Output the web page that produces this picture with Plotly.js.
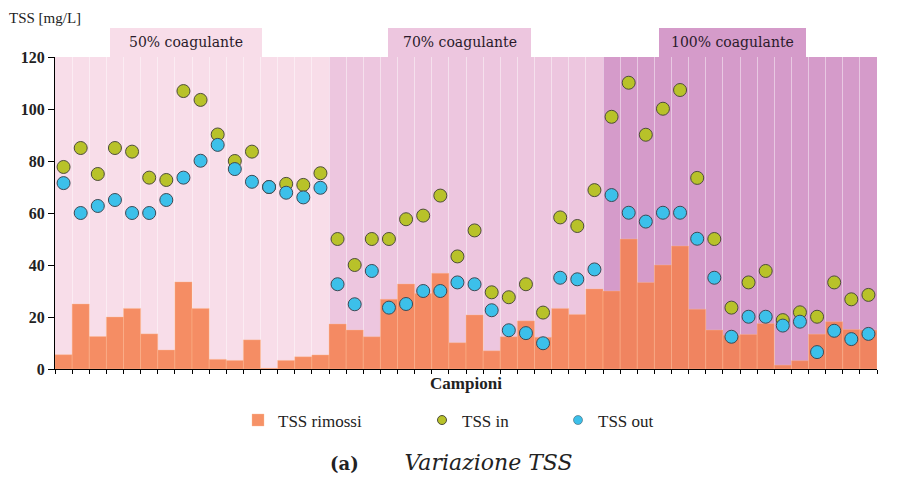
<!DOCTYPE html>
<html>
<head>
<meta charset="utf-8">
<script src="https://cdn.plot.ly/plotly-3.0.1.min.js"></script>
<style>html,body{margin:0;padding:0;background:#fff;}#chart{width:901px;height:477px;}</style>
</head>
<body>
<div id="chart"></div>
<script>
// Sample numbers (Campioni)
const campioni = [1,2,3,4,5,6,7,8,9,10,11,12,13,14,15,16,17,18,19,20,21,22,23,24,25,26,27,28,29,30,31,32,33,34,35,36,37,38,39,40,41,42,43,44,45,46,47,48];

// TSS rimossi [mg/L]
const tssRimossi = [5.5,25,12.5,20,23.3,13.5,7.3,33.5,23.3,3.7,3.3,11.2,0.3,3.3,4.7,5.4,
                    17.3,15,12.4,26.8,32.7,29,36.8,10.1,20.8,7,12.4,18.5,12.2,23.3,21,30.8,
                    30,50,33.3,40,47.3,23,15,13,13.3,17.5,1.5,3.2,13.4,18.2,15.2,15];
// TSS in [mg/L]
const tssIn = [77.7,85,75,85,83.6,73.6,72.7,106.9,103.5,90.2,80,83.6,70,71.2,70.8,75.3,
               50,40,50,50,57.6,59,66.7,43.3,53.3,29.5,27.6,32.6,21.7,58.3,55,68.8,
               97,110.1,90.1,100.1,107.3,73.5,50,23.6,33.3,37.7,18.8,21.8,20.1,33.3,26.8,28.5];
// TSS out [mg/L]
const tssOut = [71.5,60,62.7,65,60,60,65,73.6,80.1,86.2,76.9,72,70,67.8,66,69.7,
                32.6,24.9,37.7,23.6,25,30,30,33.3,32.6,22.6,14.9,13.8,9.9,35.1,34.5,38.3,
                66.9,60.1,56.7,60.1,60.1,50.1,35.1,12.4,20.1,20.1,16.7,18.2,6.5,14.7,11.5,13.5];

// Coagulant dosing groups
const gruppi = ['50% coagulante','70% coagulante','100% coagulante'];
const gruppoPrimo = [1,17,33];
const gruppoUltimo = [16,32,48];
const yTicks = [0,20,40,60,80,100,120];

const serif = 'Liberation Serif, DejaVu Serif, serif';
const dejavu = 'DejaVu Serif, serif';
const bgColors = ['#f8dde9','#edc6df','#d59bca'];
const labelBox = [[110,262],[388,531],[659,806]];
const colIn = '#b8c229', colOut = '#3cc0ea';

const plotL = 55, plotR = 877;
const pxToX = px => 0.5 + (px - plotL) / ((plotR - plotL) / campioni.length);

const shapes = [];
const annotations = [];
gruppi.forEach((g, i) => {
  shapes.push({type:'rect', xref:'x', yref:'paper', x0:gruppoPrimo[i]-0.5, x1:gruppoUltimo[i]+0.5, y0:0, y1:1,
    fillcolor:bgColors[i], line:{width:0}, layer:'below'});
  shapes.push({type:'rect', xref:'x', yref:'paper', x0:pxToX(labelBox[i][0]), x1:pxToX(labelBox[i][1]), y0:1, y1:1.093,
    fillcolor:bgColors[i], line:{width:0}, layer:'below'});
  annotations.push({xref:'x', yref:'paper', x:(pxToX(labelBox[i][0])+pxToX(labelBox[i][1]))/2, y:1.047,
    text:g, showarrow:false, font:{family:dejavu, size:14, color:'#2a1a2a'}, xanchor:'center', yanchor:'middle'});
});
annotations.push({xref:'paper', yref:'paper', x:-0.058, y:1.125, xanchor:'left', yanchor:'middle',
  text:'TSS [mg/L]', showarrow:false, font:{family:serif, size:15, color:'#222'}});
annotations.push({xref:'paper', yref:'paper', x:(328-55)/822, y:-0.3, xanchor:'left', yanchor:'middle',
  text:'<b>(a)</b>&nbsp;&nbsp;&nbsp;&nbsp;&nbsp;&nbsp;&nbsp;&nbsp;<i><span style="font-size:22px">Variazione TSS</span></i>', showarrow:false, font:{family:dejavu, size:18, color:'#222'}});

const boundaries = [];
for (let k = 0; k <= campioni.length; k++) boundaries.push(k + 0.5);

const traces = [
  {type:'bar', name:'TSS rimossi', x:campioni, y:tssRimossi, legend:'legend',
   marker:{color:'rgba(245,128,78,0.86)', line:{color:'rgba(255,190,150,0.6)', width:0.6}}},
  {type:'scatter', mode:'markers', name:'TSS in', x:campioni, y:tssIn, showlegend:false,
   marker:{color:colIn, size:13, line:{color:'#4d4d3a', width:1}}},
  {type:'scatter', mode:'markers', name:'TSS out', x:campioni, y:tssOut, showlegend:false,
   marker:{color:colOut, size:13, line:{color:'#3d4a55', width:1}}},
  // legend-only entries with smaller symbols
  {type:'scatter', mode:'markers', name:'TSS in', x:[null], y:[null], legend:'legend2',
   marker:{color:colIn, size:9, line:{color:'#4d4d3a', width:1}}},
  {type:'scatter', mode:'markers', name:'TSS out', x:[null], y:[null], legend:'legend3',
   marker:{color:colOut, size:9, line:{color:'#3d4a55', width:0.5}}}
];

const legFont = {family:serif, size:17, color:'#222'};
const legBase = {orientation:'h', xanchor:'left', y:-0.165, yanchor:'middle', itemwidth:30, font:legFont, bgcolor:'rgba(0,0,0,0)'};

const layout = {
  width:901, height:477,
  margin:{l:55, r:24, t:57, b:108},
  paper_bgcolor:'#ffffff', plot_bgcolor:'#ffffff',
  bargap:0,
  showlegend:true,
  legend:Object.assign({}, legBase, {x:(238-55)/822}),
  legend2:Object.assign({}, legBase, {x:(422-55)/822}),
  legend3:Object.assign({}, legBase, {x:(558-55)/822}),
  xaxis:{range:[0.5, campioni.length+0.5], tickmode:'array', tickvals:boundaries, showticklabels:false,
         ticks:'outside', ticklen:4, tickcolor:'#000', tickwidth:1,
         showgrid:true, gridcolor:'rgba(255,255,255,0.45)', gridwidth:1,
         showline:true, linecolor:'#000', linewidth:1, zeroline:false,
         title:{text:'<b>Campioni</b>', standoff:4, font:{family:serif, size:17, color:'#222'}}},
  yaxis:{range:[0,120], tickmode:'array', tickvals:yTicks, ticktext:yTicks.map(v => '<b>'+v+'</b>'),
         ticks:'outside', ticklen:6, tickcolor:'#000', showgrid:false, zeroline:false,
         showline:true, linecolor:'#000', linewidth:1,
         tickfont:{family:serif, size:16, color:'#222'}},
  shapes:shapes,
  annotations:annotations
};

Plotly.newPlot('chart', traces, layout, {displayModeBar:false, staticPlot:true});
</script>
</body>
</html>
